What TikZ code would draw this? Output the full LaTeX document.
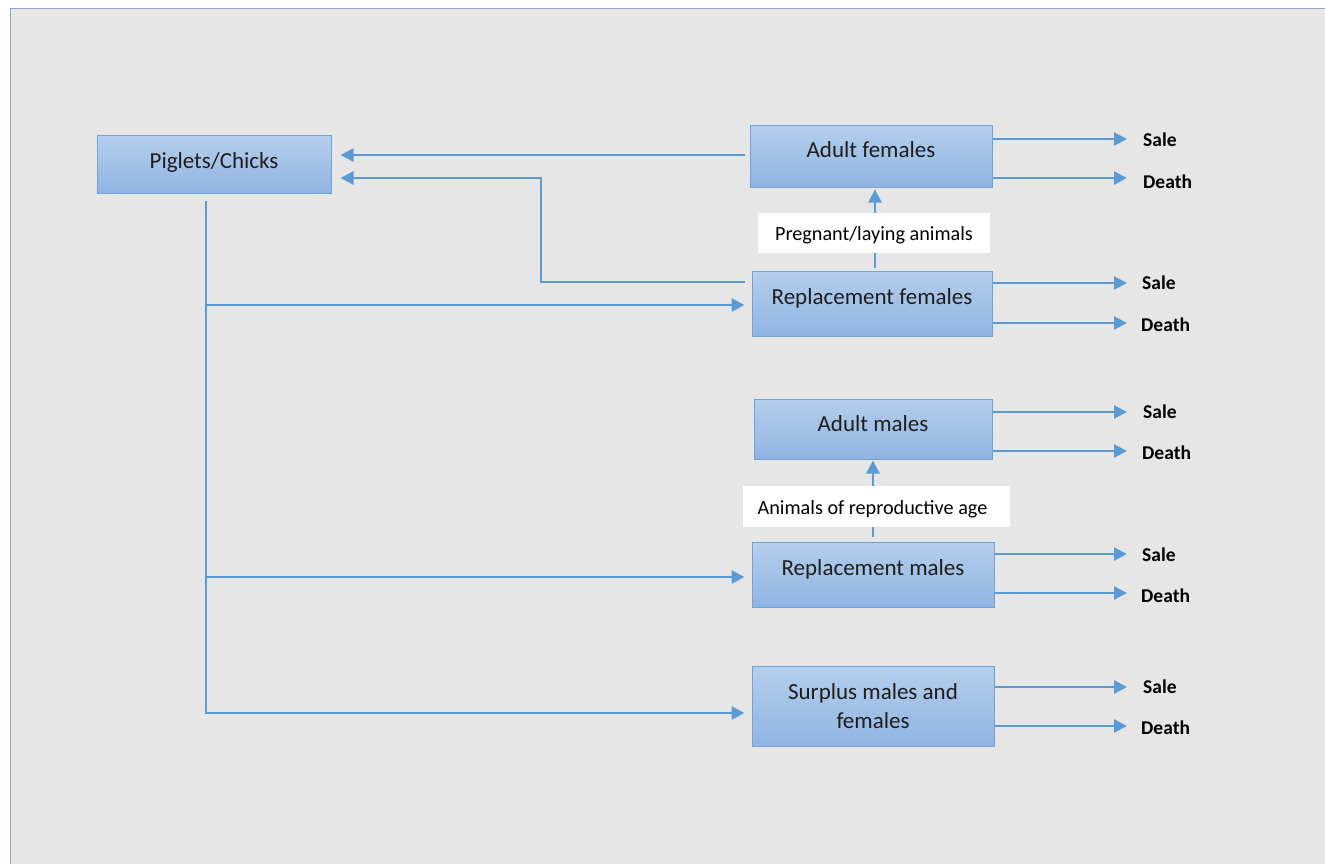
\documentclass[tikz,border=0pt]{standalone}
\usepackage{fontspec}
\setmainfont{Carlito}
\usetikzlibrary{arrows.meta}
\definecolor{pagebg}{HTML}{E6E6E6}
\definecolor{frame}{HTML}{8FA7C2}
\definecolor{flow}{HTML}{5B9BD5}
\definecolor{boxtop}{HTML}{B5CEEC}
\definecolor{boxbot}{HTML}{8FB4E2}
\definecolor{boxline}{HTML}{6EA3DB}
\definecolor{boxtext}{HTML}{1E1E1E}
\tikzset{
  stock/.style={draw=boxline, line width=1pt, top color=boxtop, bottom color=boxbot,
    inner sep=0pt, text=boxtext, align=center,
    font=\fontsize{23}{29}\selectfont},
  tag/.style={fill=white, inner sep=0pt, font=\fontsize{20.2}{24}\selectfont},
  outcome/.style={anchor=west, inner sep=0pt, font=\bfseries\fontsize{19.5}{24}\selectfont},
  flowline/.style={draw=flow, line width=2.6pt},
  arr/.style={flowline, -{Triangle[length=13pt,width=13pt]}},
}
% place a text line with its baseline at a given height above the node centre
\newcommand{\onbase}[2]{\smash{\raisebox{#1}{#2}}}
\begin{document}
\begin{tikzpicture}[x=1pt,y=-1pt]
\useasboundingbox (0,0) rectangle (1325,863);
% page background
\fill[white] (0,0) rectangle (1325,863);
\filldraw[fill=pagebg, draw=frame, line width=1pt] (10,8) rectangle (1330,870);

% stock boxes
\node[stock, minimum width=234pt, minimum height=58pt] (pig) at (214,164) {\onbase{-4.3pt}{Piglets/Chicks}};
\node[stock, minimum width=242pt, minimum height=62pt] (af) at (871,156) {\onbase{-1.6pt}{Adult females}};
\node[stock, minimum width=240pt, minimum height=65pt] (rf) at (872,303.5) {\onbase{-0.8pt}{Replacement females}};
\node[stock, minimum width=238pt, minimum height=60pt] (am) at (873,429) {\onbase{-2.6pt}{Adult males}};
\node[stock, minimum width=242pt, minimum height=65pt] (rm) at (873,574.5) {\onbase{-0.6pt}{Replacement males}};
\node[stock, minimum width=242pt, minimum height=80pt] (sur) at (873,706) {Surplus males and\\females};

% outcome labels
\node[outcome] (s1) at (1143,140) {Sale};
\node[outcome] (d1) at (1143,182) {Death};
\node[outcome] (s2) at (1142,283) {Sale};
\node[outcome] (d2) at (1141,325) {Death};
\node[outcome] (s3) at (1143,412) {Sale};
\node[outcome] (d3) at (1142,453) {Death};
\node[outcome] (s4) at (1142,555) {Sale};
\node[outcome] (d4) at (1141,596) {Death};
\node[outcome] (s5) at (1143,687) {Sale};
\node[outcome] (d5) at (1141,728) {Death};

% births back to the young stock
\draw[arr] ([xshift=-5pt,yshift=1pt]af.west) -- ([xshift=9pt,yshift=9pt]pig.east);
\coordinate (bend) at (541,282);
\draw[arr] ([xshift=-7pt,yshift=21.5pt]rf.west) -- (bend) |- ([xshift=9pt,yshift=-14pt]pig.east);

% young stock split into groups
\coordinate (trunk) at ([xshift=-8pt,yshift=-7pt]pig.south);
\coordinate (rfin) at ([xshift=-7pt,yshift=-1.5pt]rf.west);
\coordinate (rmin) at ([xshift=-7pt,yshift=-2.5pt]rm.west);
\coordinate (surin) at ([xshift=-7pt,yshift=-7pt]sur.west);
\draw[arr] (trunk) |- (surin);
\draw[arr] (trunk |- rfin) -- (rfin);
\draw[arr] (trunk |- rmin) -- (rmin);

% promotion to adults
\draw[arr] ([xshift=3pt,yshift=3pt]rf.north) -- ([xshift=4pt,yshift=-2pt]af.south);
\draw[arr] ([yshift=5pt]rm.north) -- ([yshift=-1pt]am.south);
\node[tag, minimum width=232pt, minimum height=40pt] (preg) at (874,233) {\onbase{-7.5pt}{Pregnant/laying animals}};
\node[tag, minimum width=267pt, minimum height=41pt] (repro) at (876.5,506.5) {\hspace*{-8pt}\onbase{-7.5pt}{Animals of reproductive age}};

% exits: sale and death
\draw[arr] ([yshift=17pt]af.east) -- ([xshift=-16pt,yshift=1pt]s1.west);
\draw[arr] ([yshift=-22pt]af.east) -- ([xshift=-16pt,yshift=4pt]d1.west);
\draw[arr] ([yshift=20.5pt]rf.east) -- ([xshift=-15pt,yshift=0pt]s2.west);
\draw[arr] ([yshift=-19.5pt]rf.east) -- ([xshift=-14pt,yshift=2pt]d2.west);
\draw[arr] ([yshift=17pt]am.east) -- ([xshift=-16pt,yshift=0pt]s3.west);
\draw[arr] ([yshift=-22pt]am.east) -- ([xshift=-15pt,yshift=2pt]d3.west);
\draw[arr] ([yshift=20.5pt]rm.east) -- ([xshift=-15pt,yshift=1pt]s4.west);
\draw[arr] ([yshift=-18.5pt]rm.east) -- ([xshift=-14pt,yshift=3pt]d4.west);
\draw[arr] ([yshift=19pt]sur.east) -- ([xshift=-16pt,yshift=0pt]s5.west);
\draw[arr] ([yshift=-20pt]sur.east) -- ([xshift=-14pt,yshift=2pt]d5.west);
\end{tikzpicture}
\end{document}
